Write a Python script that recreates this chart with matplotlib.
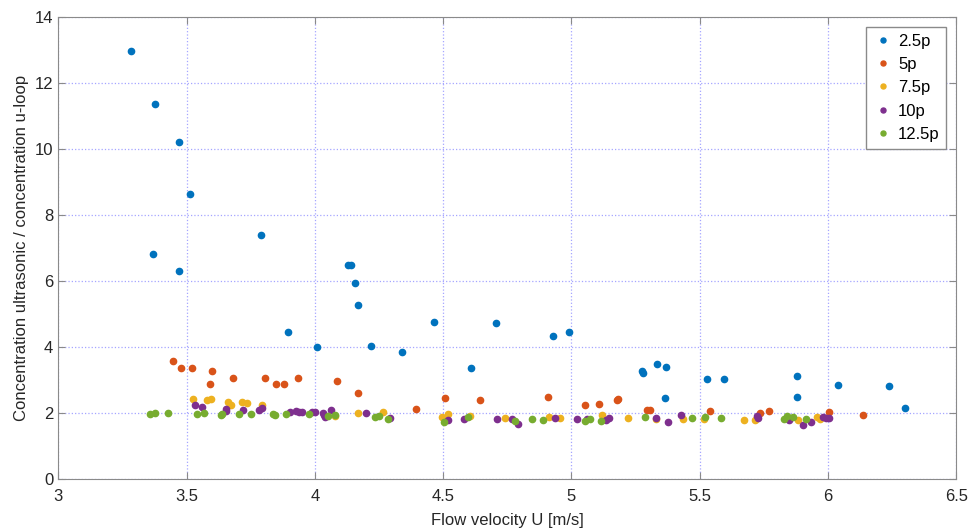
import matplotlib.pyplot as plt

plt.rcParams['font.family'] = ['Liberation Sans', 'DejaVu Sans']

# 2.5p
u_25 = [3.282, 3.378, 3.471, 3.514, 3.792, 3.368, 3.469, 4.131, 4.139, 4.158,
        4.170, 3.896, 4.007, 4.218, 4.340, 4.466, 4.706, 4.607, 4.928, 4.989,
        5.273, 5.279, 5.333, 5.368, 5.366, 5.527, 5.595, 5.878, 5.878, 6.040,
        6.237, 6.300]
c_25 = [12.96, 11.35, 10.21, 8.64, 7.39, 6.83, 6.30, 6.47, 6.47, 5.94,
        5.28, 4.46, 4.00, 4.03, 3.85, 4.77, 4.72, 3.36, 4.33, 4.45,
        3.26, 3.22, 3.48, 3.39, 2.45, 3.03, 3.03, 3.11, 2.49, 2.84,
        2.82, 2.14]

# 5p
u_5 = [3.447, 3.477, 3.520, 3.599, 3.592, 3.681, 3.805, 3.848, 3.880, 3.936,
       4.085, 4.169, 4.393, 4.506, 4.643, 4.910, 5.051, 5.106, 5.178, 5.180,
       5.295, 5.305, 5.540, 5.735, 5.770, 6.005, 6.136]
c_5 = [3.58, 3.35, 3.35, 3.27, 2.87, 3.05, 3.05, 2.88, 2.87, 3.07,
       2.97, 2.61, 2.11, 2.44, 2.39, 2.47, 2.25, 2.27, 2.38, 2.41,
       2.08, 2.08, 2.06, 1.99, 2.06, 2.04, 1.94]

# 7.5p
u_75 = [3.524, 3.579, 3.594, 3.660, 3.672, 3.718, 3.734, 3.795, 4.079, 4.169,
        4.265, 4.494, 4.518, 4.605, 4.740, 4.912, 4.954, 5.119, 5.222, 5.329,
        5.435, 5.515, 5.672, 5.715, 5.883, 5.958, 5.968]
c_75 = [2.42, 2.38, 2.41, 2.33, 2.23, 2.32, 2.31, 2.24, 1.92, 2.01,
        2.03, 1.88, 1.96, 1.90, 1.86, 1.88, 1.86, 1.94, 1.86, 1.83,
        1.83, 1.81, 1.79, 1.79, 1.79, 1.88, 1.81]

# 10p
u_10 = [3.533, 3.559, 3.652, 3.653, 3.720, 3.782, 3.795, 3.903, 3.925, 3.938,
        3.951, 3.990, 4.000, 4.030, 4.035, 4.039, 4.062, 4.201, 4.293, 4.517,
        4.581, 4.708, 4.769, 4.792, 4.936, 5.023, 5.062, 5.136, 5.146, 5.328,
        5.376, 5.426, 5.722, 5.726, 5.848, 5.902, 5.935, 5.980, 5.993, 6.003]
c_10 = [2.23, 2.19, 2.13, 2.07, 2.10, 2.10, 2.14, 2.03, 2.06, 2.03,
        2.03, 2.04, 2.04, 2.01, 1.93, 1.87, 2.10, 2.01, 1.85, 1.78,
        1.83, 1.81, 1.81, 1.67, 1.85, 1.82, 1.82, 1.78, 1.86, 1.86,
        1.74, 1.93, 1.92, 1.86, 1.79, 1.65, 1.74, 1.87, 1.86, 1.84]

# 12.5p
u_125 = [3.358, 3.378, 3.429, 3.541, 3.569, 3.635, 3.640, 3.703, 3.751, 3.836,
         3.844, 3.886, 3.977, 4.051, 4.078, 4.234, 4.249, 4.284, 4.503, 4.597,
         4.779, 4.847, 4.888, 5.053, 5.072, 5.117, 5.287, 5.469, 5.519, 5.584,
         5.828, 5.840, 5.863, 5.913]
c_125 = [1.96, 2.00, 2.01, 1.97, 1.99, 1.95, 1.98, 1.96, 1.96, 1.97,
         1.93, 1.98, 1.96, 1.92, 1.93, 1.88, 1.90, 1.82, 1.72, 1.88,
         1.77, 1.83, 1.79, 1.76, 1.81, 1.77, 1.88, 1.86, 1.88, 1.86,
         1.83, 1.91, 1.88, 1.81]

series = [("2.5p", u_25, c_25, "#0072BD"),
          ("5p", u_5, c_5, "#D95319"),
          ("7.5p", u_75, c_75, "#EDB120"),
          ("10p", u_10, c_10, "#7E2F8E"),
          ("12.5p", u_125, c_125, "#77AC30")]

fig = plt.figure(figsize=(9.7, 5.31), dpi=100)
ax = fig.add_axes([0.060, 0.098, 0.926, 0.870])

for name, u, c, col in series:
    ax.plot(u, c, ".", color=col, markersize=9, label=name)

ax.set_xlim(3, 6.5)
ax.set_ylim(0, 14)
ax.set_xticks([3, 3.5, 4, 4.5, 5, 5.5, 6, 6.5])
ax.set_xticklabels(["3", "3.5", "4", "4.5", "5", "5.5", "6", "6.5"])
ax.set_yticks(range(0, 15, 2))
ax.grid(True, color="#a5a5ff", linestyle=":", linewidth=0.9)
ax.set_axisbelow(True)
for s in ax.spines.values():
    s.set_color("#8a8a8a")
ax.tick_params(direction="in", top=True, right=True, length=5,
               colors="#8a8a8a", labelcolor="#262626", labelsize=12)
ax.tick_params(axis="x", pad=7)
ax.set_xlabel("Flow velocity U [m/s]", fontsize=12, color="#262626",
              labelpad=7)
ax.set_ylabel("Concentration ultrasonic / concentration u-loop", fontsize=12,
              color="#262626")

leg = ax.legend(loc="upper right", fontsize=12, handletextpad=0.3,
                handlelength=1.2, borderaxespad=0.6, fancybox=False,
                framealpha=1, markerscale=0.8)
leg.get_frame().set_edgecolor("#8a8a8a")

fig.savefig("out.png", dpi=100)
